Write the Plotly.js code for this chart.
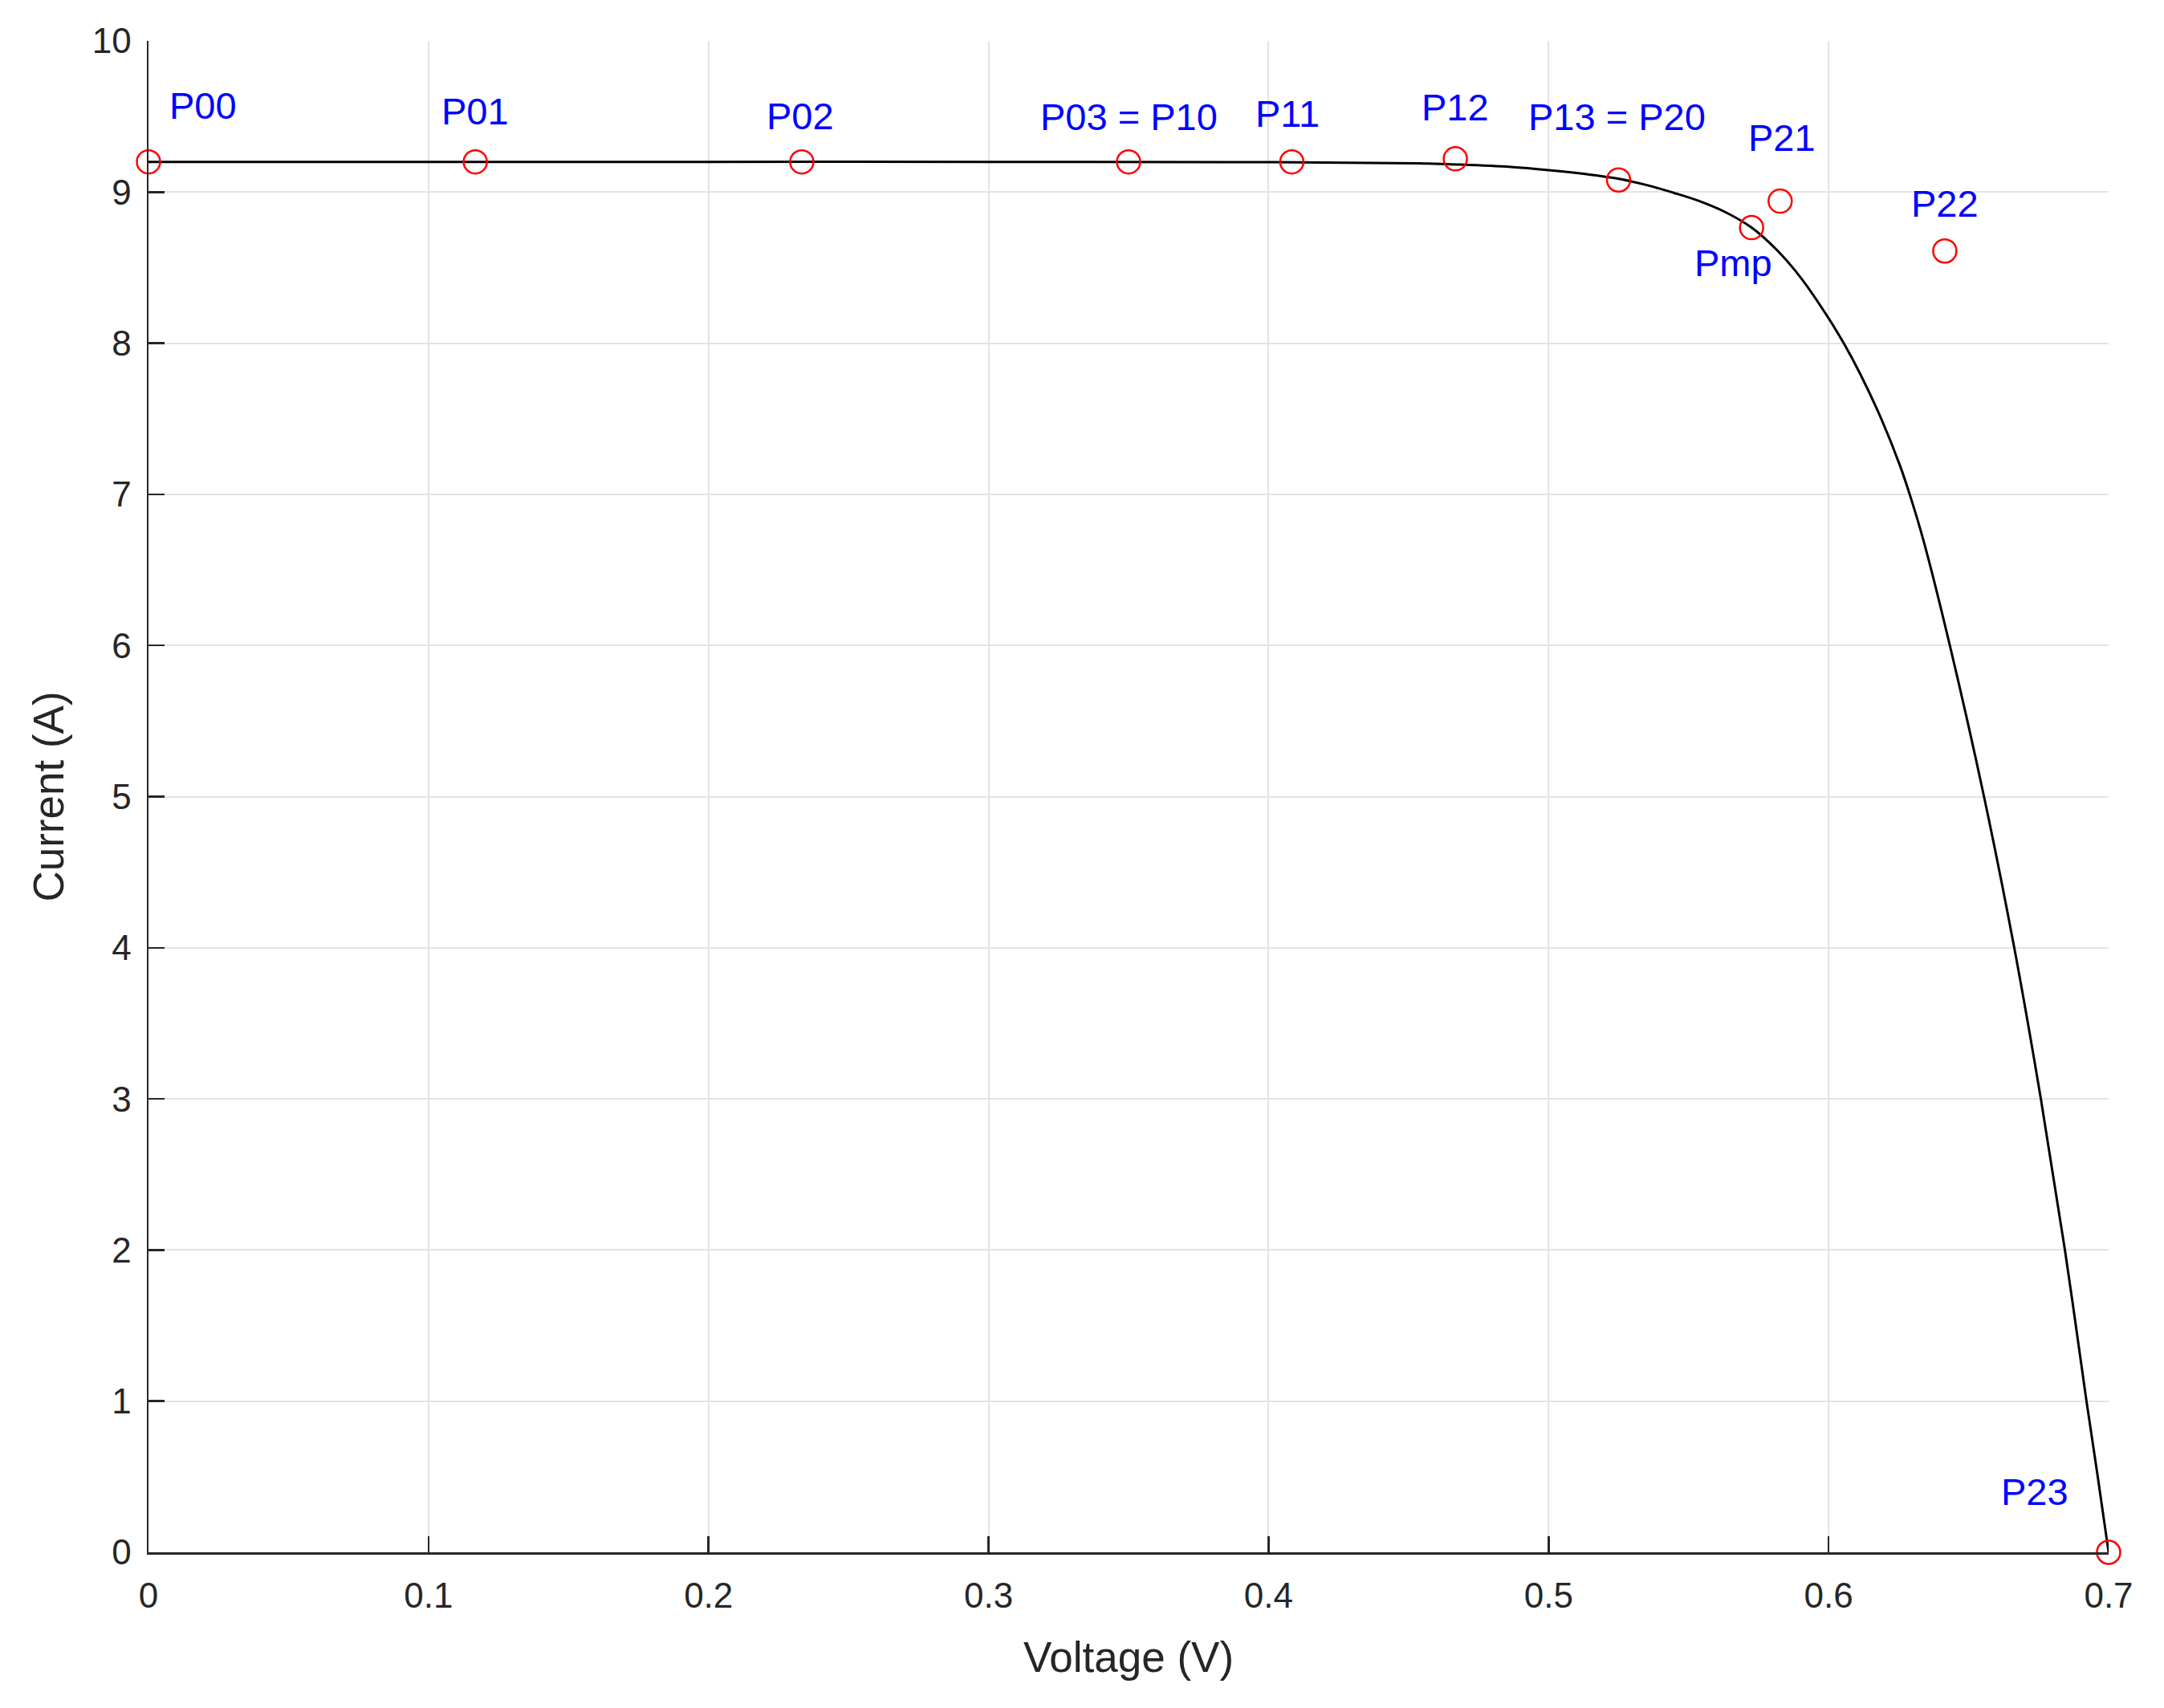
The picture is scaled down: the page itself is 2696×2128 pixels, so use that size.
<!DOCTYPE html>
<html>
<head>
<meta charset="utf-8">
<script src="https://cdn.plot.ly/plotly-3.0.1.min.js"></script>
<style>
  html, body { margin: 0; padding: 0; background: #ffffff; }
  #chart { width: 2696px; height: 2128px; }
</style>
</head>
<body>
<div id="chart"></div>
<script>
// ---- Data ----
// I-V curve (Voltage in V, Current in A)
const curveVoltage = [0, 0.1, 0.2, 0.3, 0.4, 0.4537, 0.4678, 0.4864, 0.5, 0.5136, 0.5243, 0.5354, 0.5447, 0.5539, 0.5634, 0.5725, 0.5816, 0.5902, 0.6, 0.6054, 0.6112, 0.6188, 0.6255, 0.6293, 0.6341, 0.6433, 0.6555, 0.6663, 0.6758, 0.6844, 0.6921, 0.6962, 0.7];
const curveCurrent = [9.2, 9.2, 9.2, 9.2, 9.198, 9.19, 9.182, 9.166, 9.145, 9.118, 9.09, 9.045, 8.995, 8.94, 8.865, 8.765, 8.615, 8.43, 8.165, 8.0, 7.8, 7.5, 7.19, 6.98, 6.68, 6.0, 5.0, 4.0, 3.0, 2.0, 1.0, 0.49, 0];

// Labelled points (control points and maximum power point)
const pointLabels  = ["P00", "P01", "P02", "P03 = P10", "P11", "P12", "P13 = P20", "P21", "P22", "P23", "Pmp"];
const pointVoltage = [0, 0.1167, 0.2333, 0.35, 0.4083, 0.4667, 0.525, 0.5827, 0.6415, 0.7, 0.5725];
const pointCurrent = [9.2, 9.2, 9.2, 9.2, 9.2, 9.22, 9.08, 8.94, 8.61, 0, 8.765];

// Axis ticks
const xTickVals = [0, 0.1, 0.2, 0.3, 0.4, 0.5, 0.6, 0.7];
const xTickText = ["0", "0.1", "0.2", "0.3", "0.4", "0.5", "0.6", "0.7"];
const yTickVals = [0, 1, 2, 3, 4, 5, 6, 7, 8, 9, 10];
const yTickText = ["0", "1", "2", "3", "4", "5", "6", "7", "8", "9", "10"];

// ---- Styling (label placement in pixels relative to each point) ----
const labelShiftX = [68, 0, -2, 0, -5, 0, -2, 2, 0, -92, -23];
const labelShiftY = [70, 63, 57, 56, 60, 64, 79, 79, 59, 76, -44];

const FONT = '"Liberation Sans", Arial, Helvetica, sans-serif';
const AXIS_COLOR = '#262626';
const GRID_COLOR = '#e3e3e3';

const traces = [
  {
    x: curveVoltage, y: curveCurrent,
    type: 'scatter', mode: 'lines',
    line: { color: '#000000', width: 3, shape: 'spline', smoothing: 1 },
    hoverinfo: 'skip', showlegend: false
  },
  {
    x: pointVoltage, y: pointCurrent,
    type: 'scatter', mode: 'markers',
    marker: { symbol: 'circle-open', size: 29, color: '#ff0000', line: { color: '#ff0000', width: 2.5 } },
    cliponaxis: false,
    hoverinfo: 'skip', showlegend: false
  }
];

const annotations = pointLabels.map((t, i) => ({
  x: pointVoltage[i], y: pointCurrent[i], xref: 'x', yref: 'y',
  text: t, showarrow: false,
  xanchor: 'center', yanchor: 'middle',
  xshift: labelShiftX[i], yshift: labelShiftY[i],
  font: { family: FONT, size: 47, color: '#0000ff' }
}));

const layout = {
  width: 2696, height: 2128, autosize: false,
  paper_bgcolor: '#ffffff', plot_bgcolor: '#ffffff',
  margin: { l: 185, r: 69, t: 51, b: 194, pad: 0 },
  showlegend: false,
  font: { family: FONT, size: 44, color: AXIS_COLOR },
  xaxis: {
    range: [0, 0.7], tickvals: xTickVals, ticktext: xTickText,
    showgrid: true, gridcolor: GRID_COLOR, gridwidth: 2,
    zeroline: false, showline: true, linecolor: AXIS_COLOR, linewidth: 2.5,
    ticks: 'inside', ticklen: 20, tickwidth: 2.5, tickcolor: AXIS_COLOR,
    tickfont: { family: FONT, size: 44, color: AXIS_COLOR },
    ticklabelstandoff: 14,
    title: { text: 'Voltage (V)', font: { family: FONT, size: 53, color: AXIS_COLOR }, standoff: 35 },
    automargin: false, fixedrange: true
  },
  yaxis: {
    range: [0, 10], tickvals: yTickVals, ticktext: yTickText,
    showgrid: true, gridcolor: GRID_COLOR, gridwidth: 2,
    zeroline: false, showline: true, linecolor: AXIS_COLOR, linewidth: 2.5,
    ticks: 'inside', ticklen: 20, tickwidth: 2.5, tickcolor: AXIS_COLOR,
    tickfont: { family: FONT, size: 44, color: AXIS_COLOR },
    ticklabelstandoff: 10,
    title: { text: 'Current (A)', font: { family: FONT, size: 53, color: AXIS_COLOR }, standoff: 18 },
    automargin: false, fixedrange: true
  },
  annotations: annotations
};

Plotly.newPlot('chart', traces, layout, { staticPlot: true, displayModeBar: false });
</script>
</body>
</html>
